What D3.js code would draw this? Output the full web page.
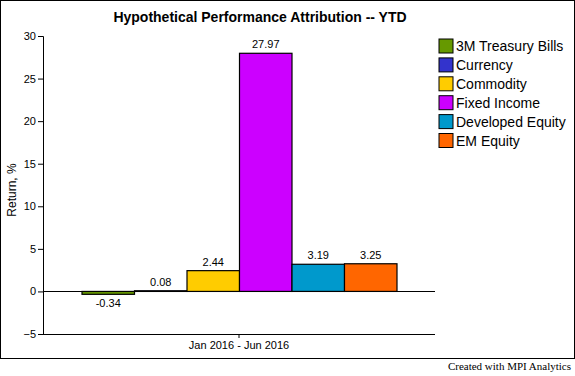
<!DOCTYPE html>
<html>
<head>
<meta charset="utf-8">
<script src="https://cdn.jsdelivr.net/npm/d3@7"></script>
<style>
  body { margin: 0; background: #fff; }
  text { font-family: "Liberation Sans", Arial, sans-serif; }
</style>
</head>
<body>
<svg id="chart" width="575" height="376"></svg>
<script>
const period = ["Jan 2016 - Jun 2016"]
const assetClasses = ["3M Treasury Bills", "Currency", "Commodity", "Fixed Income", "Developed Equity", "EM Equity"]
const returns = [-0.34, 0.08, 2.44, 27.97, 3.19, 3.25]
const colours = ["#669900", "#3333cc", "#ffcc00", "#cc00ff", "#0099cc", "#ff6600"]
const yTicks = [-5, 0, 5, 10, 15, 20, 25, 30]

const svg = d3.select("#chart")
const m = { top: 36, right: 140, bottom: 42, left: 43 }
const width = 575, plotH = 334

svg.append("rect")
  .attr("x", 0.5).attr("y", 0.5)
  .attr("width", 574).attr("height", 358)
  .attr("fill", "none").attr("stroke", "#000")

const x0 = d3.scaleBand()
  .domain(period)
  .range([m.left, width - m.right])
  .paddingInner(0).paddingOuter(0.05)

const x1 = d3.scaleBand()
  .domain(assetClasses)
  .range([82 - m.left, 397 - m.left])

const y = d3.scaleLinear()
  .domain([-5, 30])
  .range([plotH, m.top])

// y axis
svg.append("g")
  .attr("transform", `translate(${m.left},0)`)
  .call(d3.axisLeft(y).tickValues(yTicks).tickSize(5).tickPadding(2))
  .call(g => g.selectAll("text").attr("font-size", 11).attr("fill", "#000"))

// x axis
svg.append("g")
  .attr("transform", `translate(0,${plotH})`)
  .call(d3.axisBottom(x0).tickSize(4).tickSizeOuter(0).tickPadding(3))
  .call(g => g.select(".domain").attr("d", `M${m.left},0.5H435`))
  .call(g => g.selectAll("text").attr("font-size", 11).attr("fill", "#000"))

// zero line
svg.append("line")
  .attr("x1", m.left).attr("x2", 435)
  .attr("y1", Math.round(y(0)) + 0.5).attr("y2", Math.round(y(0)) + 0.5)
  .attr("stroke", "#000")

const data = assetClasses.map((k, i) => ({ key: k, value: returns[i], colour: colours[i] }))

const grp = svg.append("g")
  .attr("transform", `translate(${m.left},0)`)

grp.selectAll("rect")
  .data(data)
  .enter().append("rect")
    .attr("x", d => x1(d.key))
    .attr("y", d => y(Math.max(0, d.value)))
    .attr("width", x1.bandwidth())
    .attr("height", d => Math.abs(y(d.value) - y(0)))
    .attr("fill", d => d.colour)
    .attr("stroke", "#000")
    .attr("stroke-width", 1.2)

grp.selectAll(".lbl")
  .data(data)
  .enter().append("text")
    .attr("class", "lbl")
    .attr("x", d => x1(d.key) + x1.bandwidth() / 2)
    .attr("y", d => d.value < 0 ? y(d.value) + 13 : y(d.value) - 5)
    .attr("text-anchor", "middle")
    .attr("font-size", 11)
    .text(d => d.value.toFixed(2))

// title
svg.append("text")
  .attr("x", 260)
  .attr("y", 22)
  .attr("text-anchor", "middle")
  .attr("font-size", 14)
  .attr("font-weight", "bold")
  .text("Hypothetical Performance Attribution -- YTD")

// y axis title
svg.append("text")
  .attr("transform", `translate(16,190) rotate(-90)`)
  .attr("text-anchor", "middle")
  .attr("font-size", 12)
  .text("Return, %")

// legend
const legend = svg.append("g")
  .selectAll("g")
  .data(data)
  .enter().append("g")
    .attr("transform", (d, i) => `translate(439,${39 + i * 18.9})`)

legend.append("rect")
  .attr("width", 14).attr("height", 14)
  .attr("fill", d => d.colour)
  .attr("stroke", "#000")

legend.append("text")
  .attr("x", 17).attr("y", 12)
  .attr("font-size", 14)
  .text(d => d.key)

// credit
svg.append("text")
  .attr("x", 571)
  .attr("y", 370)
  .attr("text-anchor", "end")
  .style("font-family", "'Liberation Serif', serif")
  .attr("font-size", 11)
  .text("Created with MPI Analytics")
</script>
</body>
</html>
